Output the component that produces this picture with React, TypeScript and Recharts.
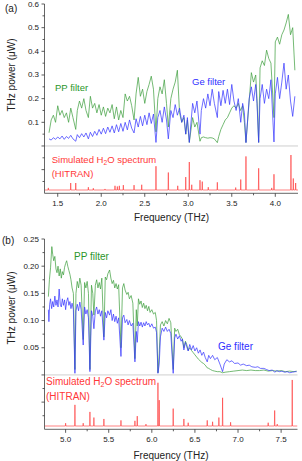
import { ComposedChart, Line, XAxis, YAxis, ReferenceLine } from 'recharts';

const FONT = '"Liberation Sans", Arial, Helvetica, sans-serif';
const GREEN = '#3f9f3f';
const BLUE = '#3535ff';
const RED = '#ff3838';

type Pair = [number, number];

// ---- panel (a): 1.4 - 4.2 THz ----
const ppA: Pair[] = [
  [1.400, 0.056], [1.425, 0.110], [1.450, 0.130], [1.475, 0.100], [1.500, 0.170], [1.525, 0.130], [1.550, 0.150],
  [1.575, 0.120], [1.600, 0.140], [1.625, 0.100], [1.650, 0.160], [1.675, 0.120], [1.707, 0.070], [1.725, 0.150],
  [1.750, 0.190], [1.775, 0.160], [1.800, 0.200], [1.825, 0.150], [1.852, 0.120], [1.875, 0.210], [1.900, 0.160],
  [1.925, 0.180], [1.950, 0.140], [1.975, 0.175], [2.000, 0.130], [2.025, 0.165], [2.050, 0.125], [2.075, 0.160],
  [2.100, 0.140], [2.125, 0.175], [2.150, 0.115], [2.175, 0.165], [2.200, 0.110], [2.225, 0.150], [2.250, 0.120],
  [2.275, 0.220], [2.300, 0.190], [2.325, 0.210], [2.350, 0.170], [2.377, 0.110], [2.400, 0.220], [2.425, 0.290],
  [2.450, 0.210], [2.475, 0.240], [2.500, 0.180], [2.525, 0.230], [2.550, 0.260], [2.575, 0.295], [2.600, 0.240],
  [2.629, 0.060], [2.650, 0.200], [2.675, 0.250], [2.700, 0.220], [2.725, 0.280], [2.750, 0.180], [2.771, 0.080],
  [2.800, 0.200], [2.825, 0.240], [2.850, 0.270], [2.875, 0.320], [2.900, 0.140], [2.925, 0.100], [2.950, 0.120],
  [2.971, 0.050], [2.990, 0.110], [3.012, 0.015], [3.050, 0.120], [3.075, 0.080], [3.100, 0.100], [3.135, 0.020],
  [3.150, 0.035], [3.175, 0.038], [3.200, 0.035], [3.225, 0.033], [3.250, 0.035], [3.275, 0.034], [3.300, 0.030],
  [3.334, 0.014], [3.350, 0.040], [3.375, 0.070], [3.400, 0.090], [3.425, 0.110], [3.450, 0.120], [3.475, 0.140],
  [3.500, 0.160], [3.525, 0.170], [3.550, 0.160], [3.575, 0.180], [3.600, 0.150], [3.625, 0.170], [3.645, 0.100],
  [3.663, 0.015], [3.700, 0.190], [3.725, 0.310], [3.750, 0.270], [3.775, 0.300], [3.790, 0.200], [3.809, 0.015],
  [3.825, 0.330], [3.850, 0.360], [3.875, 0.340], [3.900, 0.405], [3.925, 0.370], [3.950, 0.350], [3.985, 0.120],
  [4.000, 0.440], [4.025, 0.460], [4.050, 0.430], [4.075, 0.470], [4.100, 0.490], [4.125, 0.520], [4.150, 0.556],
  [4.175, 0.470], [4.200, 0.500], [4.225, 0.320],
];

const geA: Pair[] = [
  [1.400, 0.030], [1.425, 0.025], [1.450, 0.035], [1.475, 0.028], [1.500, 0.038], [1.525, 0.030], [1.550, 0.042],
  [1.575, 0.028], [1.600, 0.040], [1.625, 0.032], [1.650, 0.045], [1.675, 0.030], [1.707, 0.020], [1.725, 0.048],
  [1.750, 0.035], [1.775, 0.052], [1.800, 0.038], [1.825, 0.055], [1.852, 0.030], [1.875, 0.058], [1.900, 0.040],
  [1.925, 0.062], [1.950, 0.045], [1.975, 0.070], [2.000, 0.050], [2.025, 0.075], [2.050, 0.052], [2.075, 0.080],
  [2.100, 0.058], [2.125, 0.085], [2.150, 0.055], [2.175, 0.090], [2.200, 0.060], [2.225, 0.095], [2.250, 0.062],
  [2.275, 0.100], [2.300, 0.068], [2.325, 0.110], [2.350, 0.075], [2.377, 0.055], [2.400, 0.115], [2.425, 0.080],
  [2.450, 0.125], [2.475, 0.085], [2.500, 0.130], [2.525, 0.090], [2.550, 0.140], [2.575, 0.095], [2.600, 0.135],
  [2.629, 0.015], [2.650, 0.120], [2.675, 0.150], [2.700, 0.100], [2.725, 0.165], [2.750, 0.110], [2.771, 0.030],
  [2.800, 0.150], [2.825, 0.120], [2.850, 0.175], [2.875, 0.130], [2.900, 0.160], [2.925, 0.100], [2.950, 0.130],
  [2.971, 0.050], [2.990, 0.120], [3.012, 0.015], [3.050, 0.180], [3.075, 0.140], [3.100, 0.190], [3.135, 0.050],
  [3.150, 0.150], [3.175, 0.200], [3.200, 0.160], [3.225, 0.220], [3.250, 0.170], [3.275, 0.240], [3.300, 0.180],
  [3.334, 0.120], [3.350, 0.230], [3.375, 0.170], [3.400, 0.235], [3.425, 0.180], [3.450, 0.240], [3.475, 0.175],
  [3.500, 0.260], [3.525, 0.190], [3.550, 0.150], [3.575, 0.200], [3.603, 0.100], [3.625, 0.180], [3.645, 0.140],
  [3.663, 0.014], [3.700, 0.200], [3.725, 0.250], [3.750, 0.190], [3.775, 0.260], [3.790, 0.180], [3.809, 0.015],
  [3.825, 0.200], [3.850, 0.260], [3.875, 0.180], [3.900, 0.240], [3.925, 0.200], [3.950, 0.280], [3.985, 0.017],
  [4.000, 0.220], [4.025, 0.290], [4.050, 0.200], [4.075, 0.270], [4.100, 0.350], [4.125, 0.240], [4.150, 0.300],
  [4.175, 0.190], [4.200, 0.125], [4.225, 0.210],
];

// simulated H2O lines (frequency, relative strength)
const h2oLinesA: Pair[] = [
  [1.392, 0.06], [1.649, 0.20], [1.707, 0.20], [1.852, 0.08], [1.909, 0.05], [2.043, 0.03], [2.158, 0.12],
  [2.185, 0.10], [2.208, 0.12], [2.254, 0.14], [2.377, 0.14], [2.465, 0.15], [2.629, 0.68], [2.771, 0.50],
  [2.879, 0.12], [2.971, 0.37], [3.012, 0.80], [3.040, 0.15], [3.135, 0.28], [3.161, 0.24], [3.230, 0.08],
  [3.334, 0.22], [3.545, 0.07], [3.603, 0.30], [3.663, 0.96], [3.809, 0.62], [3.959, 0.06], [3.985, 0.45],
  [4.180, 1.00], [4.207, 0.33], [4.234, 0.20],
];

const xTicksA = [1.5, 1.75, 2.0, 2.25, 2.5, 2.75, 3.0, 3.25, 3.5, 3.75, 4.0];
const yTicksA = [-0.15, -0.1, -0.05, 0, 0.05, 0.1, 0.15, 0.2, 0.25, 0.3, 0.35, 0.4, 0.45, 0.5, 0.55, 0.6];

// ---- panel (b): 4.8 - 7.7 THz ----
const ppB: Pair[] = [
  [4.800, 0.144], [4.812, 0.175], [4.825, 0.197], [4.840, 0.236], [4.850, 0.222], [4.862, 0.210], [4.875, 0.218],
  [4.888, 0.195], [4.900, 0.188], [4.912, 0.200], [4.925, 0.182], [4.938, 0.195], [4.950, 0.178], [4.962, 0.190],
  [4.975, 0.184], [4.988, 0.198], [5.000, 0.205], [5.012, 0.210], [5.025, 0.200], [5.038, 0.192], [5.050, 0.185],
  [5.062, 0.175], [5.075, 0.160], [5.090, 0.150], [5.108, 0.010], [5.120, 0.150], [5.135, 0.172], [5.150, 0.160],
  [5.165, 0.178], [5.180, 0.165], [5.204, 0.065], [5.220, 0.170], [5.235, 0.160], [5.250, 0.172], [5.265, 0.150],
  [5.282, 0.010], [5.300, 0.165], [5.315, 0.150], [5.328, 0.110], [5.345, 0.165], [5.360, 0.175], [5.375, 0.160],
  [5.390, 0.170], [5.405, 0.158], [5.420, 0.178], [5.444, 0.070], [5.460, 0.180], [5.475, 0.175], [5.490, 0.186],
  [5.510, 0.193], [5.525, 0.178], [5.540, 0.168], [5.555, 0.174], [5.570, 0.160], [5.585, 0.168], [5.600, 0.158],
  [5.615, 0.166], [5.642, 0.050], [5.660, 0.160], [5.675, 0.168], [5.690, 0.156], [5.710, 0.148], [5.725, 0.152],
  [5.740, 0.140], [5.760, 0.146], [5.780, 0.132], [5.804, 0.030], [5.820, 0.120], [5.831, 0.090], [5.845, 0.140],
  [5.860, 0.130], [5.875, 0.136], [5.890, 0.124], [5.905, 0.132], [5.920, 0.122], [5.935, 0.128], [5.950, 0.118],
  [5.965, 0.126], [5.980, 0.115], [6.000, 0.120], [6.020, 0.112], [6.040, 0.115], [6.055, 0.100], [6.071, 0.004],
  [6.086, 0.040], [6.100, 0.092], [6.120, 0.098], [6.140, 0.090], [6.160, 0.100], [6.180, 0.094], [6.200, 0.104],
  [6.220, 0.096], [6.248, 0.010], [6.265, 0.086], [6.280, 0.080], [6.300, 0.084], [6.320, 0.074], [6.340, 0.070],
  [6.355, 0.066], [6.372, 0.050], [6.390, 0.062], [6.405, 0.056], [6.422, 0.045], [6.440, 0.050], [6.460, 0.045],
  [6.480, 0.041], [6.500, 0.037], [6.520, 0.033], [6.540, 0.029], [6.560, 0.026], [6.580, 0.023], [6.600, 0.021],
  [6.620, 0.018], [6.643, 0.013], [6.660, 0.012], [6.680, 0.010], [6.705, 0.008], [6.730, 0.007], [6.760, 0.006],
  [6.790, 0.006], [6.821, 0.004], [6.850, 0.005], [6.900, 0.006], [6.950, 0.007], [7.000, 0.008], [7.050, 0.009],
  [7.100, 0.008], [7.150, 0.009], [7.200, 0.008], [7.250, 0.008], [7.300, 0.009], [7.350, 0.007], [7.400, 0.008],
  [7.450, 0.007], [7.500, 0.008], [7.550, 0.006], [7.600, 0.007], [7.650, 0.006], [7.680, 0.007],
];

const geB: Pair[] = [
  [4.800, 0.120], [4.806, 0.098], [4.815, 0.130], [4.825, 0.140], [4.838, 0.122], [4.850, 0.135], [4.862, 0.125],
  [4.875, 0.145], [4.888, 0.128], [4.900, 0.138], [4.912, 0.125], [4.925, 0.158], [4.938, 0.130], [4.950, 0.125],
  [4.962, 0.140], [4.975, 0.128], [4.988, 0.138], [5.000, 0.120], [5.012, 0.135], [5.025, 0.142], [5.038, 0.128],
  [5.050, 0.135], [5.062, 0.122], [5.075, 0.132], [5.090, 0.120], [5.108, 0.003], [5.120, 0.118], [5.135, 0.130],
  [5.150, 0.118], [5.165, 0.134], [5.180, 0.120], [5.204, 0.055], [5.220, 0.125], [5.235, 0.112], [5.250, 0.120],
  [5.265, 0.105], [5.282, 0.006], [5.300, 0.118], [5.315, 0.108], [5.328, 0.085], [5.345, 0.118], [5.360, 0.125],
  [5.375, 0.112], [5.390, 0.120], [5.405, 0.108], [5.420, 0.118], [5.444, 0.064], [5.460, 0.115], [5.475, 0.105],
  [5.490, 0.118], [5.510, 0.110], [5.525, 0.120], [5.540, 0.100], [5.555, 0.112], [5.570, 0.098], [5.585, 0.108],
  [5.600, 0.095], [5.615, 0.105], [5.642, 0.034], [5.660, 0.105], [5.675, 0.110], [5.690, 0.096], [5.710, 0.102],
  [5.725, 0.092], [5.740, 0.100], [5.760, 0.090], [5.780, 0.095], [5.804, 0.024], [5.820, 0.080], [5.831, 0.060],
  [5.845, 0.098], [5.860, 0.090], [5.875, 0.097], [5.890, 0.088], [5.905, 0.096], [5.920, 0.090], [5.935, 0.098],
  [5.950, 0.092], [5.965, 0.095], [5.980, 0.088], [6.000, 0.094], [6.020, 0.086], [6.040, 0.088], [6.055, 0.078],
  [6.071, 0.003], [6.086, 0.020], [6.100, 0.070], [6.120, 0.086], [6.140, 0.080], [6.160, 0.088], [6.180, 0.080],
  [6.200, 0.084], [6.220, 0.076], [6.248, 0.003], [6.265, 0.068], [6.280, 0.075], [6.300, 0.066], [6.320, 0.072],
  [6.340, 0.062], [6.355, 0.066], [6.372, 0.046], [6.390, 0.060], [6.405, 0.052], [6.422, 0.044], [6.440, 0.056],
  [6.460, 0.046], [6.480, 0.054], [6.500, 0.044], [6.520, 0.050], [6.540, 0.040], [6.560, 0.046], [6.580, 0.036],
  [6.600, 0.042], [6.620, 0.032], [6.643, 0.024], [6.660, 0.036], [6.680, 0.030], [6.705, 0.036], [6.730, 0.028],
  [6.760, 0.032], [6.790, 0.020], [6.821, 0.006], [6.840, 0.020], [6.870, 0.028], [6.900, 0.024], [6.930, 0.026],
  [6.960, 0.021], [7.000, 0.022], [7.030, 0.018], [7.060, 0.020], [7.100, 0.017], [7.130, 0.018], [7.160, 0.015],
  [7.200, 0.014], [7.230, 0.015], [7.260, 0.012], [7.300, 0.012], [7.330, 0.010], [7.360, 0.008], [7.400, 0.009],
  [7.425, 0.005], [7.450, 0.008], [7.480, 0.006], [7.510, 0.007], [7.540, 0.005], [7.570, 0.006], [7.600, 0.004],
  [7.630, 0.005], [7.660, 0.006], [7.680, 0.006],
];

const h2oLinesB: Pair[] = [
  [5.000, 0.06], [5.108, 0.45], [5.204, 0.06], [5.282, 0.30], [5.328, 0.18], [5.444, 0.15], [5.642, 0.12],
  [5.804, 0.11], [5.831, 0.21], [5.932, 0.04], [6.071, 0.92], [6.086, 0.55], [6.248, 0.37], [6.372, 0.15],
  [6.422, 0.07], [6.643, 0.12], [6.705, 0.09], [6.778, 0.18], [6.821, 0.60], [6.914, 0.08], [7.350, 0.07],
  [7.425, 0.33], [7.455, 0.04], [7.629, 0.98],
];

const xTicksB = [5.0, 5.25, 5.5, 5.75, 6.0, 6.25, 6.5, 6.75, 7.0, 7.25, 7.5];
const yTicksB = [-0.075, -0.05, -0.025, 0, 0.025, 0.05, 0.075, 0.1, 0.125, 0.15, 0.175, 0.2, 0.225, 0.25];

type Row = { f: number; v: number };
const toRows = (pairs: Pair[]): Row[] => pairs.map(([f, v]) => ({ f, v }));

// stick spectrum: each line drawn as a narrow spike on a zero baseline
function stickRows(lines: Pair[], from: number, to: number): Row[] {
  const rows: Row[] = [{ f: from, v: 0 }];
  lines.forEach(([f, h]) => {
    rows.push({ f: f - 0.003, v: 0 }, { f, v: h }, { f: f + 0.003, v: 0 });
  });
  rows.push({ f: to, v: 0 });
  return rows;
}

const isMult = (v: number, step: number) => Math.abs(v / step - Math.round(v / step)) < 1e-6;

function BottomTick(props: any) {
  const { x, y, payload } = props;
  const major = isMult(payload.value, 0.5);
  return (
    <g>
      <line x1={x} x2={x} y1={y} y2={y + (major ? 3.5 : 2)} stroke="#333" strokeWidth={0.8} />
      {major && (
        <text x={x} y={y + 10} textAnchor="middle" dominantBaseline="central" fontSize={8} fill="#222" fontFamily={FONT}>
          {payload.value.toFixed(1)}
        </text>
      )}
    </g>
  );
}

function TopTick(props: any) {
  const { x, y, payload } = props;
  const major = isMult(payload.value, 0.5);
  return <line x1={x} x2={x} y1={y} y2={y - (major ? 3.5 : 2)} stroke={major ? '#888' : '#333'} strokeWidth={major ? 1.2 : 0.8} />;
}

function LeftTick(props: any) {
  const { x, y, payload, step, digits } = props;
  const v = payload.value;
  const major = isMult(v, step);
  return (
    <g>
      <line x1={x} x2={x - (major ? 3 : 2)} y1={y} y2={y} stroke="#333" strokeWidth={0.8} />
      {major && v > 1e-6 && (
        <text x={x - 5.5} y={y} textAnchor="end" dominantBaseline="central" fontSize={8} fill="#222" fontFamily={FONT}>
          {v.toFixed(digits)}
        </text>
      )}
    </g>
  );
}

type PanelProps = {
  height: number;
  plotTop: number;
  plotBottom: number;
  plotRight: number;
  xDomain: [number, number];
  yDomain: [number, number];
  h2oDomain: [number, number];
  xTicks: number[];
  yTicks: number[];
  yStep: number;
  yDigits: number;
  pp: Pair[];
  ge: Pair[];
  h2o: Pair[];
};

function Panel(p: PanelProps) {
  return (
    <ComposedChart
      width={302}
      height={p.height}
      margin={{ top: p.plotTop, right: 302 - p.plotRight, bottom: 0, left: 0 }}
    >
      <XAxis
        xAxisId="bottom"
        dataKey="f"
        type="number"
        domain={p.xDomain}
        allowDataOverflow
        ticks={p.xTicks}
        interval={0}
        height={p.height - p.plotBottom}
        tickSize={0}
        tickMargin={0}
        tickLine={false}
        axisLine={{ stroke: '#666', strokeWidth: 1 }}
        tick={(t: any) => <BottomTick {...t} />}
      />
      <XAxis
        xAxisId="top"
        orientation="top"
        dataKey="f"
        type="number"
        domain={p.xDomain}
        allowDataOverflow
        ticks={p.xTicks}
        interval={0}
        height={0}
        tickSize={0}
        tickMargin={0}
        tickLine={false}
        axisLine={{ stroke: '#888', strokeWidth: 1 }}
        tick={(t: any) => <TopTick {...t} />}
      />
      <YAxis
        yAxisId="p"
        type="number"
        domain={p.yDomain}
        allowDataOverflow
        ticks={p.yTicks}
        interval={0}
        width={44.5}
        tickSize={0}
        tickMargin={0}
        tickLine={false}
        axisLine={{ stroke: '#666', strokeWidth: 1 }}
        tick={(t: any) => <LeftTick {...t} step={p.yStep} digits={p.yDigits} />}
      />
      <YAxis
        yAxisId="h2o"
        orientation="right"
        type="number"
        domain={p.h2oDomain}
        allowDataOverflow
        width={0}
        tick={false}
        tickLine={false}
        axisLine={{ stroke: '#888', strokeWidth: 1 }}
      />
      <ReferenceLine yAxisId="p" xAxisId="bottom" y={0} stroke="#cfcfcf" strokeWidth={1} />
      <Line
        xAxisId="bottom"
        yAxisId="p"
        data={toRows(p.pp)}
        dataKey="v"
        stroke={GREEN}
        strokeOpacity={0.8}
        strokeWidth={0.9}
        dot={false}
        activeDot={false}
        isAnimationActive={false}
      />
      <Line
        xAxisId="bottom"
        yAxisId="p"
        data={toRows(p.ge)}
        dataKey="v"
        stroke={BLUE}
        strokeOpacity={0.8}
        strokeWidth={0.9}
        dot={false}
        activeDot={false}
        isAnimationActive={false}
      />
      <Line
        xAxisId="top"
        yAxisId="h2o"
        data={stickRows(p.h2o, p.xDomain[0], p.xDomain[1])}
        dataKey="v"
        stroke={RED}
        strokeOpacity={0.8}
        strokeWidth={0.8}
        dot={false}
        activeDot={false}
        isAnimationActive={false}
      />
    </ComposedChart>
  );
}

const txt = (left: number, cy: number, size: number, color: string): React.CSSProperties => ({
  position: 'absolute',
  left,
  top: cy - size / 2,
  fontSize: size,
  lineHeight: 1,
  color,
  whiteSpace: 'nowrap',
  fontFamily: FONT,
});

const centered = (cx: number, cy: number, size: number, rotate = 0): React.CSSProperties => ({
  position: 'absolute',
  left: cx,
  top: cy,
  transform: `translate(-50%, -50%) rotate(${rotate}deg)`,
  fontSize: size,
  lineHeight: 1,
  color: '#222',
  whiteSpace: 'nowrap',
  fontFamily: FONT,
});

const sub: React.CSSProperties = { fontSize: '0.7em', verticalAlign: '-0.3em', lineHeight: 0 };

export default function App() {
  return (
    <div style={{ position: 'absolute', left: 0, top: 0, width: 302, height: 461, background: '#fff', overflow: 'hidden' }}>
      <div style={{ position: 'absolute', left: 0, top: 0 }}>
        <Panel
          height={230}
          plotTop={4}
          plotBottom={193.3}
          plotRight={298}
          xDomain={[1.348, 4.261]}
          yDomain={[-0.2, 0.6]}
          h2oDomain={[-0.094, 5.315]}
          xTicks={xTicksA}
          yTicks={yTicksA}
          yStep={0.1}
          yDigits={1}
          pp={ppA}
          ge={geA}
          h2o={h2oLinesA}
        />
      </div>
      <div style={{ position: 'absolute', left: 0, top: 230 }}>
        <Panel
          height={231}
          plotTop={9}
          plotBottom={199.3}
          plotRight={297.5}
          xDomain={[4.755, 7.69]}
          yDomain={[-0.1, 0.25]}
          h2oDomain={[-0.07, 3.979]}
          xTicks={xTicksB}
          yTicks={yTicksB}
          yStep={0.05}
          yDigits={2}
          pp={ppB}
          ge={geB}
          h2o={h2oLinesB}
        />
      </div>

      {/* panel (a) annotations */}
      <div style={txt(5, 9, 10, '#222')}>(a)</div>
      <div style={centered(11.7, 74.5, 10, -90)}>THz power (μW)</div>
      <div style={txt(55, 88, 9.5, '#2a962a')}>PP filter</div>
      <div style={txt(192, 81.3, 9.5, '#2f2fff')}>Ge filter</div>
      <div style={txt(51.7, 160, 9.5, RED)}>
        Simulated H<sub style={sub}>2</sub>O spectrum
      </div>
      <div style={txt(51.7, 173.3, 9.5, RED)}>(HITRAN)</div>
      <div style={centered(171.5, 218, 10)}>Frequency (THz)</div>

      {/* panel (b) annotations */}
      <div style={txt(2, 241, 10, '#222')}>(b)</div>
      <div style={centered(11.7, 307.5, 10, -90)}>THz power (μW)</div>
      <div style={txt(74, 257.3, 10, '#2a962a')}>PP filter</div>
      <div style={txt(218, 346.7, 10, '#2f2fff')}>Ge filter</div>
      <div style={txt(46, 381.7, 10, RED)}>
        Simulated H<sub style={sub}>2</sub>O spectrum
      </div>
      <div style={txt(46, 396.7, 10, RED)}>(HITRAN)</div>
      <div style={centered(171, 456, 10)}>Frequency (THz)</div>
    </div>
  );
}
